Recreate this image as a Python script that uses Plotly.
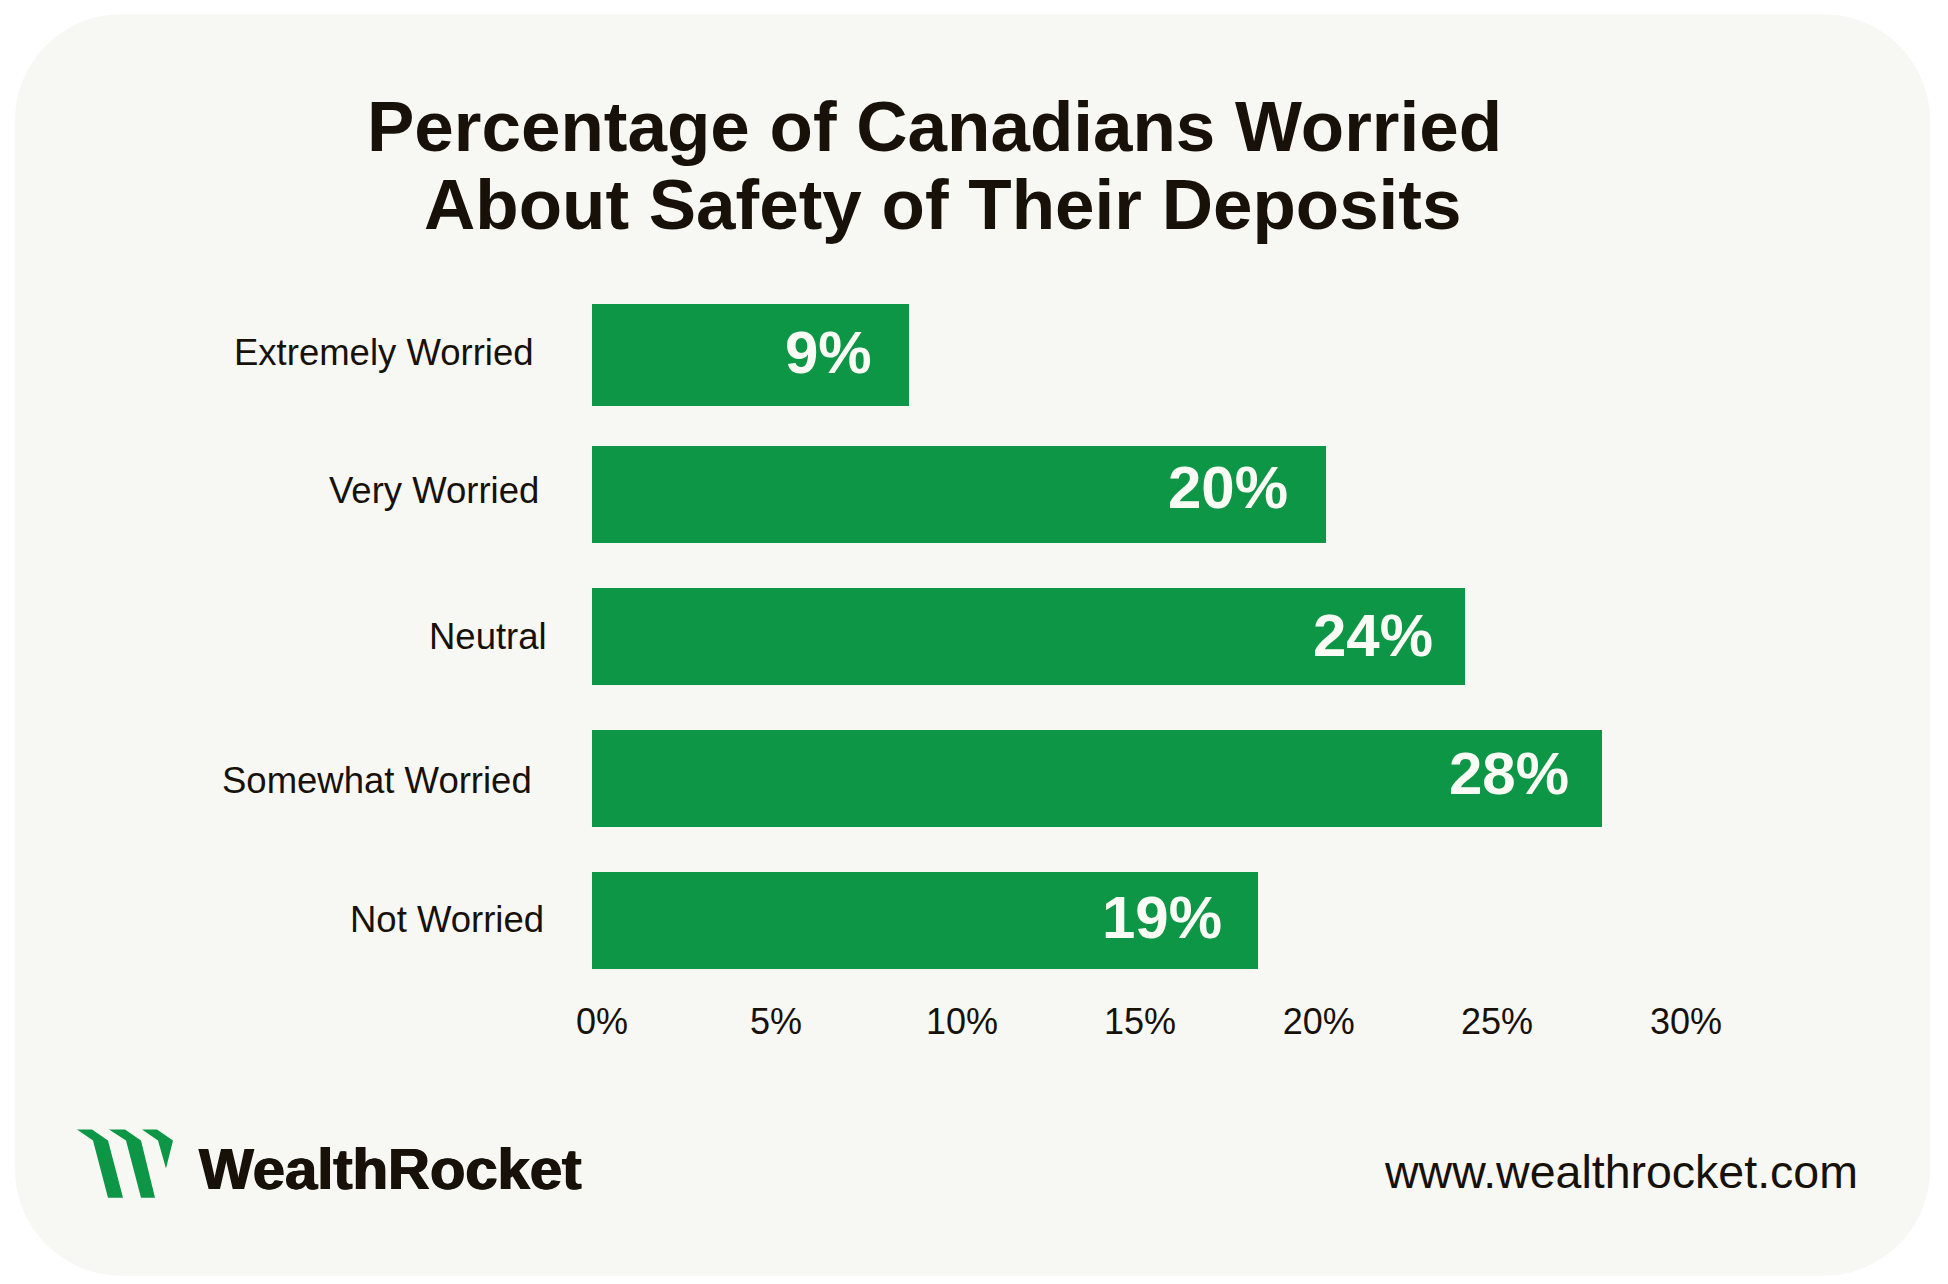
import plotly.graph_objects as go

# values; bar lengths differ a little from the printed labels
categories = ["Extremely Worried", "Very Worried", "Neutral", "Somewhat Worried", "Not Worried"]
bar_values = [8.8, 20.4, 24.24, 28.05, 18.5]
bar_labels = ["9%", "20%", "24%", "28%", "19%"]
tick_labels = ["0%", "5%", "10%", "15%", "20%", "25%", "30%"]
tick_positions = [0.28, 5.11, 10.28, 15.22, 20.19, 25.14, 30.39]

title_lines = ["Percentage of Canadians Worried", "About Safety of Their Deposits"]
brand = "WealthRocket"
site = "www.wealthrocket.com"

# per-item nudges, the source labels are placed by hand
bar_widths = [0.722, 0.687, 0.687, 0.687, 0.687]
bar_nudges = [0, -0.012, -0.007, 0, 0]
cat_xshift = [-56, -51, -43, -58, -46]
cat_yshift = [2, 6, 1, -2, 1]
label_xshift = [-35, -36, -30, -31, -34]
label_yshift = [2, 9, 2, 5, 3]

# the page body keeps its 8px margin, so the figure is 16px smaller than the window
BODY = 8
W, H = 1932, 1268
PLOT_L, PLOT_T, PLOT_W, PLOT_H = 592 - BODY, 284.4 - BODY, 1116, 706.2
INK = "#17110a"
GREEN = "#0c9646"
CARD = "#f7f8f3"
FONT = "Liberation Sans"


def px(x):
    """Window pixel x -> paper fraction (paper means the plot area)."""
    return (x - BODY - PLOT_L) / PLOT_W


def py(y):
    return 1 - (y - BODY - PLOT_T) / PLOT_H


def card_path(x0, y0, x1, y1, r):
    k = r * 0.45
    pts = [
        f"M {px(x0 + r)} {py(y0)}",
        f"L {px(x1 - r)} {py(y0)}",
        f"C {px(x1 - k)} {py(y0)} {px(x1)} {py(y0 + k)} {px(x1)} {py(y0 + r)}",
        f"L {px(x1)} {py(y1 - r)}",
        f"C {px(x1)} {py(y1 - k)} {px(x1 - k)} {py(y1)} {px(x1 - r)} {py(y1)}",
        f"L {px(x0 + r)} {py(y1)}",
        f"C {px(x0 + k)} {py(y1)} {px(x0)} {py(y1 - k)} {px(x0)} {py(y1 - r)}",
        f"L {px(x0)} {py(y0 + r)}",
        f"C {px(x0)} {py(y0 + k)} {px(x0 + k)} {py(y0)} {px(x0 + r)} {py(y0)}",
        "Z",
    ]
    return " ".join(pts)


def poly_path(points):
    return "M " + " L ".join(f"{px(x)} {py(y)}" for x, y in points) + " Z"


def text_at(x, y, text, size, bold=False, anchor="center"):
    return dict(
        xref="paper", yref="paper", x=px(x), y=py(y), text=text, showarrow=False,
        xanchor=anchor, yanchor="middle",
        font=dict(family=FONT, size=size, color=INK, weight=700 if bold else 400),
    )


logo = [
    [(77, 1129), (92, 1129), (108, 1140), (123, 1197), (108, 1197), (93, 1140)],
    [(109, 1129), (125, 1129), (141, 1140), (155, 1197), (141, 1197), (126, 1140)],
    [(142, 1129), (157, 1129), (173, 1140), (166, 1168), (158, 1140)],
]

fig = go.Figure()
fig.add_trace(go.Bar(
    x=bar_values, y=categories, orientation="h", width=bar_widths,
    offset=[n - w / 2 for n, w in zip(bar_nudges, bar_widths)],
    marker=dict(color=GREEN, line=dict(width=0)), hoverinfo="skip",
))

brand_text = text_at(196.5, 1167.5, brand, 58, bold=True, anchor="left")
# the logotype is heavier than Liberation bold
brand_text["font"]["shadow"] = f"0.8px 0 0 {INK}, -0.8px 0 0 {INK}"

annotations = [
    text_at(934, 127, title_lines[0], 71, bold=True),
    text_at(942.5, 205, title_lines[1], 71, bold=True),
    brand_text,
    text_at(1860, 1171.5, site, 46.5, anchor="right"),
]
for i, cat in enumerate(categories):
    annotations.append(dict(
        xref="x", yref="y", x=0, y=cat, text=cat, showarrow=False,
        xanchor="right", yanchor="middle", xshift=cat_xshift[i], yshift=cat_yshift[i],
        font=dict(family=FONT, size=36.5, color=INK),
    ))
    annotations.append(dict(
        xref="x", yref="y", x=bar_values[i], y=cat, text=bar_labels[i], showarrow=False,
        xanchor="right", yanchor="middle", xshift=label_xshift[i], yshift=label_yshift[i],
        font=dict(family=FONT, size=60, color="#fbfbf5", weight=700),
    ))

shapes = [dict(type="path", xref="paper", yref="paper", path=card_path(15, 15, 1930, 1275, 106),
               fillcolor=CARD, line=dict(width=0), layer="below")]
for stripe in logo:
    shapes.append(dict(type="path", xref="paper", yref="paper", path=poly_path(stripe),
                       fillcolor=GREEN, line=dict(width=0), layer="above"))

fig.update_layout(
    width=W, height=H,
    margin=dict(l=PLOT_L, r=W - PLOT_L - PLOT_W, t=PLOT_T, b=H - PLOT_T - PLOT_H, autoexpand=False),
    paper_bgcolor="white", plot_bgcolor="rgba(0,0,0,0)",
    showlegend=False, bargap=0,
    annotations=annotations, shapes=shapes,
)
fig.update_xaxes(
    range=[0, 31], tickvals=tick_positions, ticktext=tick_labels, showgrid=False,
    zeroline=False, showline=False, ticks="", ticklabelstandoff=6,
    tickfont=dict(family=FONT, size=36, color=INK),
)
fig.update_yaxes(
    categoryorder="array", categoryarray=categories, range=[4.5, -0.5],
    showgrid=False, zeroline=False, showline=False, ticks="", showticklabels=False,
)

fig.write_html("out.html")
